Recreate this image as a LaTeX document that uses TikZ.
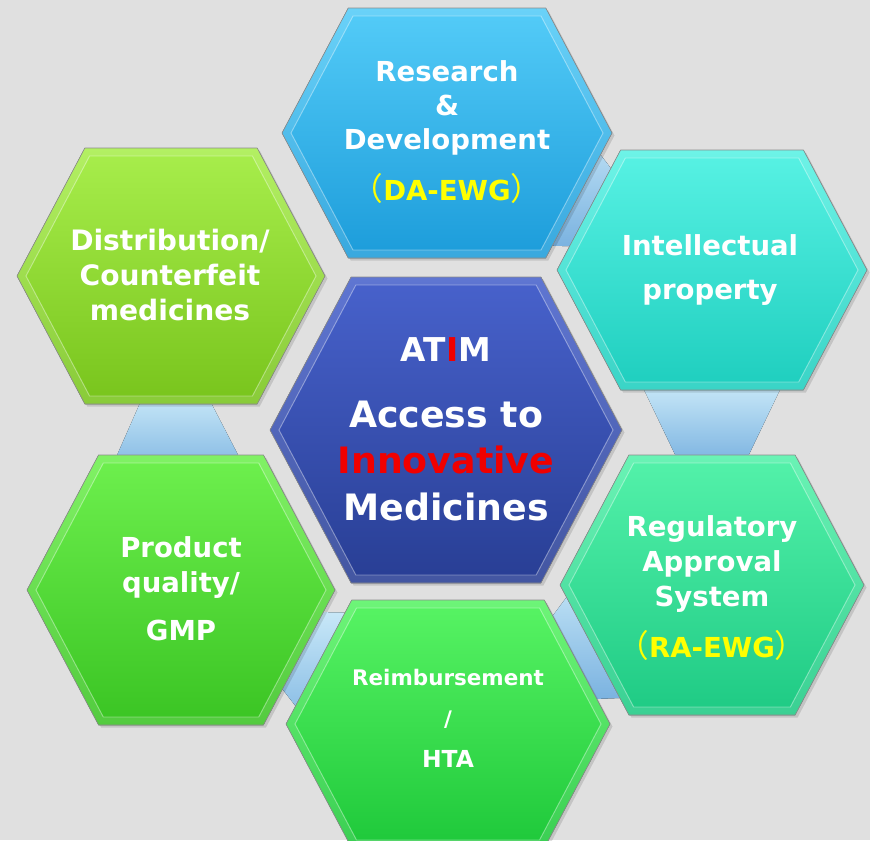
\documentclass[tikz,border=0pt]{standalone}
\usepackage{fontspec}
\setmainfont{DejaVu Sans}
\newfontfamily\cjk{Noto Sans CJK SC}
\usetikzlibrary{calc}

\definecolor{bggray}{RGB}{224,224,224}
\definecolor{linkhi}{RGB}{200,232,248}
\definecolor{linklo}{RGB}{122,178,224}
\definecolor{rdhi}{RGB}{84,204,248}
\definecolor{rdlo}{RGB}{28,156,218}
\definecolor{iphi}{RGB}{88,242,228}
\definecolor{iplo}{RGB}{30,206,190}
\definecolor{reghi}{RGB}{84,242,170}
\definecolor{reglo}{RGB}{30,202,132}
\definecolor{rbhi}{RGB}{88,244,100}
\definecolor{rblo}{RGB}{30,200,58}
\definecolor{gmphi}{RGB}{110,240,78}
\definecolor{gmplo}{RGB}{58,196,35}
\definecolor{disthi}{RGB}{168,238,76}
\definecolor{distlo}{RGB}{120,196,28}
\definecolor{atimhi}{RGB}{72,98,204}
\definecolor{atimlo}{RGB}{40,62,148}
\definecolor{atimred}{RGB}{240,0,0}
\definecolor{ewgyellow}{RGB}{255,255,0}

\tikzset{
  lbl/.style={text=white, align=center, font=\bfseries\fontsize{23.5}{30}\selectfont},
  link/.style={top color=linkhi, bottom color=linklo},
  hexline/.style={draw=black!45, line width=0.5pt},
  bevelline/.style={draw=white, draw opacity=0.38, line width=0.8pt},
  bevelband/.style={fill=white, fill opacity=0.13, even odd rule},
  hexshadow/.style={fill=black, fill opacity=0.12}
}

% hexagon round a named centre: half width, half height
\newcommand{\hexpts}[3]{($(#1)+({-(#2)},0)$) -- ($(#1)+({0.53*(#3)-(#2)},{-(#3)})$) -- ($(#1)+({(#2)-0.53*(#3)},{-(#3)})$) -- ($(#1)+({#2},0)$) -- ($(#1)+({(#2)-0.53*(#3)},{#3})$) -- ($(#1)+({0.53*(#3)-(#2)},{#3})$) -- cycle}

\newcommand{\hexcell}[5]{%
  \begin{scope}[transform canvas={shift={(2.5,2.5)}}]
    \fill[hexshadow] \hexpts{#1}{#2}{#3};
  \end{scope}
  \fill[top color=#4, bottom color=#5] \hexpts{#1}{#2}{#3};
  \fill[bevelband] \hexpts{#1}{#2}{#3} \hexpts{#1}{#2-9}{#3-8};
  \draw[bevelline] \hexpts{#1}{#2-9}{#3-8};
  \draw[hexline] \hexpts{#1}{#2}{#3};
}

% tapered link, wide at the first cell
\newcommand{\hexlink}[2]{%
  \path ($(#1)!0.5!(#2)$) coordinate (lm);
  \path ($(lm)!-1.3cm!(#2)$) coordinate (lw);
  \path ($(lm)!1.1cm!(#2)$) coordinate (ln);
  \fill[link] ($(lw)!2.12cm!90:(#2)$) -- ($(ln)!0.97cm!90:(#2)$) -- ($(ln)!0.97cm!-90:(#2)$) -- ($(lw)!2.12cm!-90:(#2)$) -- cycle;
}

\newcommand{\ewg}[1]{\textcolor{ewgyellow}{{\cjk\mdseries\fontsize{27}{30}\selectfont （}#1{\cjk\mdseries\fontsize{27}{30}\selectfont ）}}}

\begin{document}
\begin{tikzpicture}[x=0.03cm,y=-0.03cm]
    \fill[bggray] (0,0) rectangle (870,840);
    \useasboundingbox (0,0) rectangle (870,840);

    \coordinate (rd)    at (447,133);
    \coordinate (ip)    at (712,270);
    \coordinate (reg)   at (712,585);
    \coordinate (reimb) at (448,724);
    \coordinate (gmp)   at (181,590);
    \coordinate (dist)  at (171,276);
    \coordinate (atim)  at (446,430);

    \hexlink{rd}{ip}
    \hexlink{ip}{reg}
    \hexlink{reg}{reimb}
    \hexlink{reimb}{gmp}
    \hexlink{gmp}{dist}

    \hexcell{rd}{165}{125}{rdhi}{rdlo}
    \hexcell{ip}{155}{120}{iphi}{iplo}
    \hexcell{reg}{152}{130}{reghi}{reglo}
    \hexcell{reimb}{162}{124}{rbhi}{rblo}
    \hexcell{gmp}{154}{135}{gmphi}{gmplo}
    \hexcell{dist}{154}{128}{disthi}{distlo}
    \hexcell{atim}{176}{153}{atimhi}{atimlo}

    \node[lbl, font=\bfseries\fontsize{23.5}{29}\selectfont] at (447,132) (rdtext) {Research\\\&\\Development\\[14.5pt]\ewg{DA-EWG}};
    \node[lbl, font=\bfseries\fontsize{23.5}{38}\selectfont] at (710,270) (iptext) {Intellectual\\property};
    \node[lbl] at (712,588) (regtext) {Regulatory\\Approval\\System\\[13pt]\ewg{RA-EWG}};
    \node[lbl, font=\bfseries\fontsize{18.3}{35}\selectfont] at (448,718) (reimbtext) {Reimbursement\\/\\{\fontsize{20}{35}\selectfont HTA}};
    \node[lbl] at (181,589) (gmptext) {Product\\quality/\\[11pt]GMP};
    \node[lbl, font=\bfseries\fontsize{24}{30}\selectfont] at (170,275) (disttext) {Distribution/\\Counterfeit\\medicines};

    \node[lbl, font=\bfseries\fontsize{28}{34}\selectfont] at (446,350) (atimtag) {AT\textcolor{atimred}{I}M};
    \node[lbl, font=\bfseries\fontsize{31}{40}\selectfont] at (446,461) (atimtext) {Access to\\\textcolor{atimred}{Innovative}\\Medicines};
\end{tikzpicture}
\end{document}
